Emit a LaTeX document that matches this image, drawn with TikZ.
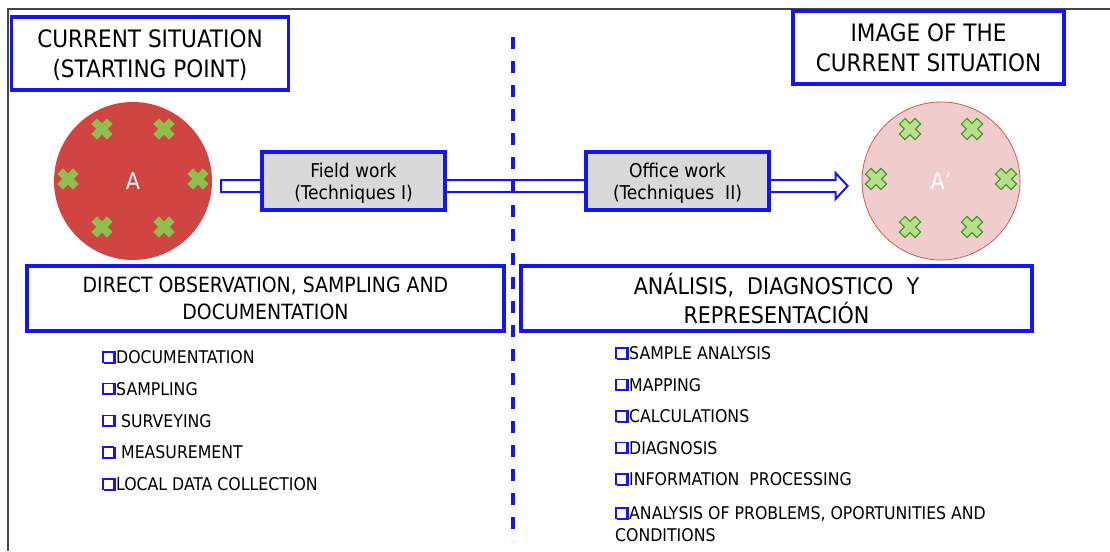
\documentclass[tikz,border=0pt]{standalone}
\usepackage{fontspec}
\setmainfont{DejaVu Sans Condensed}
\usetikzlibrary{calc}

\definecolor{boxblue}{RGB}{20,20,245}
\definecolor{workgray}{RGB}{217,217,217}
\definecolor{sitered}{RGB}{208,68,66}
\definecolor{imagepink}{RGB}{240,204,204}
\definecolor{imagered}{RGB}{205,90,90}
\definecolor{xgreen}{RGB}{141,191,74}
\definecolor{xlight}{RGB}{185,222,140}
\definecolor{xdark}{RGB}{55,150,30}
\definecolor{framegray}{RGB}{70,70,70}
% hollow shadowed square bullet
\newcommand{\bul}{\makebox[14pt][l]{\color{boxblue}%
  \rlap{\hspace{2pt}\rule{12.2pt}{12.2pt}}%
  \raisebox{2pt}{\setlength{\fboxsep}{0pt}\setlength{\fboxrule}{1.6pt}\fcolorbox{boxblue}{white}{\rule{0pt}{9pt}\hspace{9pt}}}}}

\begin{document}
\begin{tikzpicture}[x=1pt,y=-1pt,
    title box/.style={draw=boxblue,line width=3.2pt,fill=white,align=center,inner sep=0pt,minimum height=73pt,font=\fontsize{24}{30}\selectfont},
    head box/.style={title box,minimum height=65pt,font=\fontsize{21}{27}\selectfont},
    work box/.style={draw=boxblue,line width=3.2pt,fill=workgray,align=center,inner sep=0pt,text depth=0pt,minimum width=183pt,minimum height=58pt,font=\fontsize{19}{22}\selectfont},
    site/.style={circle,inner sep=0pt,minimum size=158pt,text=white,font=\fontsize{23}{23}\selectfont},
    list item/.style={anchor=west,inner sep=0pt,text height=0.73em,text depth=0pt,font=\fontsize{17.5}{22}\selectfont},
    xmark/.pic={\path[pic actions,rotate=45] (4,11) -- (4,4) -- (11,4) -- (11,-4) -- (4,-4) -- (4,-11) -- (-4,-11) -- (-4,-4) -- (-11,-4) -- (-11,4) -- (-4,4) -- (-4,11) -- cycle;}]

  \useasboundingbox (0,0) rectangle (1110,551);
  \draw[framegray,line width=1.2pt] (8,551) -- (8,9) -- (1110,9);

  \node[title box,text depth=0pt,minimum width=277pt] (now) at (150,53.5) {CURRENT SITUATION\\(STARTING POINT)};
  \node[title box,minimum width=271pt] (image) at (928.5,47.5) {IMAGE OF THE\\CURRENT SITUATION};

  \node[site,fill=sitered] (A) at (133,181) {A};
  \node[site,fill=imagepink,draw=imagered,line width=0.8pt] (Aprime) at (941,181) {A’};
  \foreach \dx/\dy in {-31/-52,31/-52,-65/-2,65/-2,-31/46,31/46}
  {
    \pic[fill=xgreen] at ($(A)+(\dx,\dy)$) {xmark};
    \pic[fill=xlight,draw=xdark,line width=1pt] at ($(Aprime)+(\dx,\dy)$) {xmark};
  }

  % block arrow A -> A'
  \coordinate (tail) at ($(A.east)+(9,5)$);
  \coordinate (tip) at ($(Aprime.west)+(-14,5)$);
  \draw[boxblue,line width=2pt,fill=white] ($(tail)+(0,-6)$) -- ($(tip)+(-12,-6)$) -- ($(tip)+(-12,-13)$) -- (tip)
        -- ($(tip)+(-12,13)$) -- ($(tip)+(-12,6)$) -- ($(tail)+(0,6)$) -- cycle;

  \node[work box] (field) at (353.5,181) {Field work\\(Techniques I)};
  \node[work box] (office) at (677.5,181) {Office work\\(Techniques~~II)};

  \coordinate (divtop) at (513,37);
  \coordinate (divbot) at (513,541);
  \draw[boxblue,line width=3.2pt,dash pattern=on 12pt off 12pt] (divtop) -- (divbot);

  \node[head box,minimum width=477pt] (fieldhead) at (265.5,298.5) {DIRECT OBSERVATION, SAMPLING AND\\DOCUMENTATION};
  \node[head box,minimum width=511pt,font=\fontsize{23}{29}\selectfont] (officehead) at (776.5,298.5) {ANÁLISIS,~~DIAGNOSTICO~~Y\\REPRESENTACIÓN};

  \foreach \txt [count=\i] in {DOCUMENTATION,SAMPLING,\ SURVEYING,\ MEASUREMENT,LOCAL DATA COLLECTION}
    \node[list item] (field\i) at (102,{360+31.75*(\i-1)}) {\bul\txt};
  \foreach \txt [count=\i] in {SAMPLE ANALYSIS,MAPPING,CALCULATIONS,DIAGNOSIS,INFORMATION~~PROCESSING}
    \node[list item] (office\i) at (615,{356+31.5*(\i-1)}) {\bul\txt};
  \node[anchor=north west,inner sep=0pt,align=left,font=\fontsize{17.5}{22}\selectfont] (office6) at (615,506.5)
    {\bul ANALYSIS OF PROBLEMS, OPORTUNITIES AND\\CONDITIONS};

\end{tikzpicture}
\end{document}
